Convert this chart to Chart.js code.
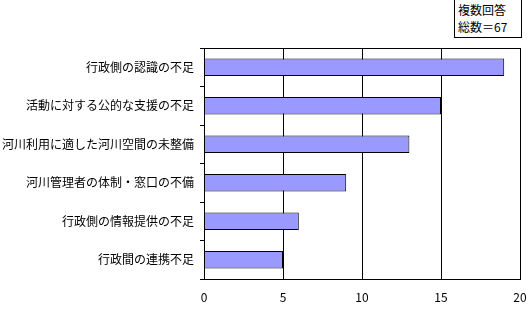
<!DOCTYPE html>
<html>
<head>
<meta charset="utf-8">
<script src="https://cdn.jsdelivr.net/npm/chart.js@4"></script>
<style>
  body { margin: 0; background: #fff; }
  #wrap { position: relative; width: 527px; height: 317px; }
  #note {
    position: absolute; left: 454px; top: -1px; width: 63px; height: 36px;
    border: 1px solid #000; background: #fff;
    font-family: "Noto Sans CJK JP", sans-serif; font-size: 12px; line-height: 17px;
    padding: 1px 0 0 3px; box-sizing: content-box;
  }
</style>
</head>
<body>
<div id="wrap">
  <canvas id="myChart" width="527" height="317"></canvas>
  <div id="note">複数回答<br>総数＝67</div>
</div>
<script>
// categories top to bottom
const categories = [
  '行政側の認識の不足',
  '活動に対する公的な支援の不足',
  '河川利用に適した河川空間の未整備',
  '河川管理者の体制・窓口の不備',
  '行政側の情報提供の不足',
  '行政間の連携不足'
];
const counts = [19, 15, 13, 9, 6, 5];
const xTicks = [0, 5, 10, 15, 20];

const font = { family: '"Noto Sans CJK JP", sans-serif', size: 12 };

// box around the plot area
const frame = {
  id: 'frame',
  afterDraw(chart) {
    const a = chart.chartArea, ctx = chart.ctx;
    ctx.save();
    ctx.strokeStyle = '#000';
    ctx.lineWidth = 1;
    ctx.strokeRect(Math.round(a.left) + 0.5, Math.round(a.top) + 0.5,
      Math.round(a.right - a.left), Math.round(a.bottom - a.top));
    ctx.restore();
  }
};

const config = {
  type: 'bar',
  data: {
    labels: categories,
    datasets: [{
      data: counts,
      backgroundColor: '#9999FF',
      borderColor: '#000',
      borderWidth: 1,
      categoryPercentage: 1,
      barPercentage: 0.45
    }]
  },
  options: {
    indexAxis: 'y',
    responsive: false,
    animation: false,
    layout: { padding: { left: 0, right: 7, top: 48, bottom: 0 } },
    plugins: { legend: { display: false }, tooltip: { enabled: false } },
    scales: {
      x: {
        min: 0, max: 20,
        afterBuildTicks: s => { s.ticks = xTicks.map(v => ({ value: v })); },
        afterFit: s => { s.height = 38; s.paddingLeft = 0; s.paddingRight = 0; },
        grid: { color: '#000', drawTicks: false },
        border: { color: '#000' },
        ticks: { color: '#000', font, padding: 11, maxRotation: 0 }
      },
      y: {
        afterFit: s => { s.width = 204; s.paddingTop = 0; s.paddingBottom = 0; },
        grid: { drawOnChartArea: false, color: '#000', tickLength: 4, offset: true },
        border: { color: '#000' },
        ticks: { color: '#000', font, padding: 6 }
      }
    }
  },
  plugins: [frame]
};

const myChart = new Chart(document.getElementById('myChart'), config);
</script>
</body>
</html>
